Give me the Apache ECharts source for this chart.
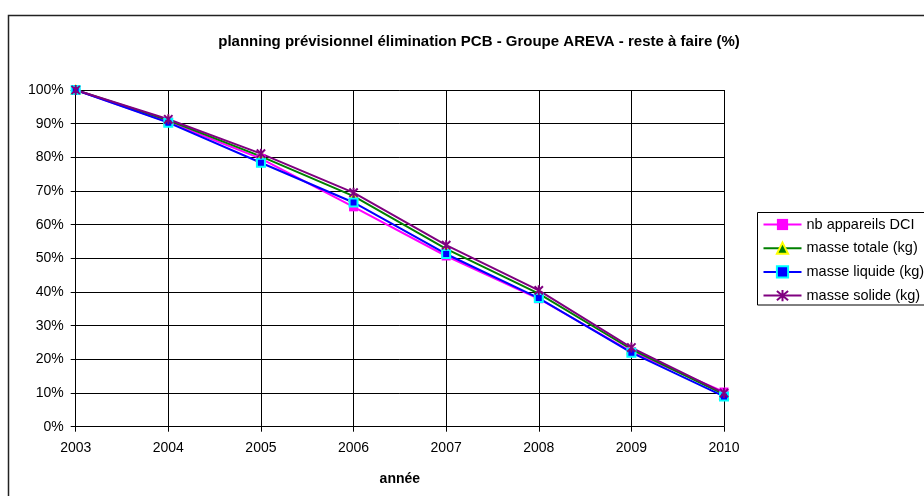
<!DOCTYPE html>
<html>
<head>
<meta charset="utf-8">
<script src="https://cdn.jsdelivr.net/npm/echarts@6/dist/echarts.min.js"></script>
<style>
html,body{margin:0;padding:0;background:#fff;}
#chart{width:924px;height:496px;}
</style>
</head>
<body>
<div id="chart"></div>
<script>
const years = ['2003','2004','2005','2006','2007','2008','2009','2010'];
const nbAppareils = [100, 90.5, 79.6, 65.3, 50.7, 38.0, 22.3, 10.3];
const masseTotale = [100, 91.0, 80.3, 68.5, 52.8, 39.5, 23.0, 9.6];
const masseLiquide = [100, 90.3, 78.4, 66.6, 51.3, 38.2, 22.0, 9.0];
const masseSolide = [100, 91.3, 81.1, 69.5, 53.9, 40.5, 23.5, 10.0];
const yTicks = [0, 10, 20, 30, 40, 50, 60, 70, 80, 90, 100];

const FONT = '"Liberation Sans", Arial, sans-serif';
const chart = echarts.init(document.getElementById('chart'), null, {renderer: 'canvas'});

const asterisk = 'path://M0,0L10,10M10,0L0,10M5,-1L5,11';

chart.setOption({
  animation: false,
  backgroundColor: '#fff',
  textStyle: {fontFamily: FONT, color: '#000'},
  title: {
    text: 'planning prévisionnel élimination PCB - Groupe AREVA - reste à faire (%)',
    left: 474, top: 29, textAlign: 'center',
    textStyle: {fontFamily: FONT, fontWeight: 'bold', fontSize: 15, color: '#000'}
  },
  graphic: [{
    type: 'rect', shape: {x: 8.5, y: 15.5, width: 1000, height: 600},
    style: {fill: 'none', stroke: '#222', lineWidth: 1.5}, silent: true, z: -1
  }, {
    type: 'rect', shape: {x: 757.5, y: 212.5, width: 300, height: 92.5},
    style: {fill: 'none', stroke: '#000', lineWidth: 1}, silent: true, z: 10
  }],
  legend: {
    left: 757, top: 212, orient: 'vertical',
    padding: [5, 5, 5, 5.5],
    borderWidth: 0,
    itemWidth: 38, itemHeight: 14, itemGap: 8.7,
    textStyle: {fontFamily: FONT, fontSize: 14.5, color: '#000'},
    data: ['nb appareils DCI', 'masse totale (kg)', 'masse liquide (kg)', 'masse solide (kg)']
  },
  grid: {left: 75.7, right: 200, top: 90, bottom: 69.3, containLabel: false},
  xAxis: {
    type: 'category', data: years, boundaryGap: false,
    name: 'année', nameLocation: 'middle', nameGap: 45,
    nameTextStyle: {fontFamily: FONT, fontWeight: 'bold', fontSize: 14, color: '#000'},
    axisLine: {lineStyle: {color: '#000', width: 1}},
    axisTick: {show: true, length: 5, lineStyle: {color: '#000'}},
    axisLabel: {fontFamily: FONT, fontSize: 14, color: '#000', margin: 14},
    splitLine: {show: true, lineStyle: {color: '#000', width: 1}}
  },
  yAxis: {
    type: 'value', min: yTicks[0], max: yTicks[yTicks.length - 1], interval: 10,
    axisLine: {show: true, lineStyle: {color: '#000', width: 1}},
    axisTick: {show: true, length: 5, lineStyle: {color: '#000'}},
    axisLabel: {fontFamily: FONT, fontSize: 14, color: '#000', margin: 12, formatter: '{value}%'},
    splitLine: {show: true, lineStyle: {color: '#000', width: 1}}
  },
  series: [
    {
      name: 'nb appareils DCI', type: 'line', data: nbAppareils,
      symbol: 'rect', symbolSize: 9, showAllSymbol: true,
      lineStyle: {color: '#FF00FF', width: 2},
      itemStyle: {color: '#FF00FF', borderColor: '#FF00FF', borderWidth: 0}
    },
    {
      name: 'masse totale (kg)', type: 'line', data: masseTotale,
      symbol: 'triangle', symbolSize: 8, showAllSymbol: true,
      lineStyle: {color: '#008000', width: 2},
      itemStyle: {color: '#008000', borderColor: '#FFFF00', borderWidth: 2}
    },
    {
      name: 'masse liquide (kg)', type: 'line', data: masseLiquide,
      symbol: 'rect', symbolSize: 8, showAllSymbol: true,
      lineStyle: {color: '#0000FF', width: 2},
      itemStyle: {color: '#0000FF', borderColor: '#00FFFF', borderWidth: 2}
    },
    {
      name: 'masse solide (kg)', type: 'line', data: masseSolide,
      symbol: asterisk, symbolSize: 10, showAllSymbol: true, symbolKeepAspect: true,
      lineStyle: {color: '#800080', width: 2},
      itemStyle: {color: 'rgba(0,0,0,0)', borderColor: '#800080', borderWidth: 2}
    }
  ]
});
</script>
</body>
</html>
